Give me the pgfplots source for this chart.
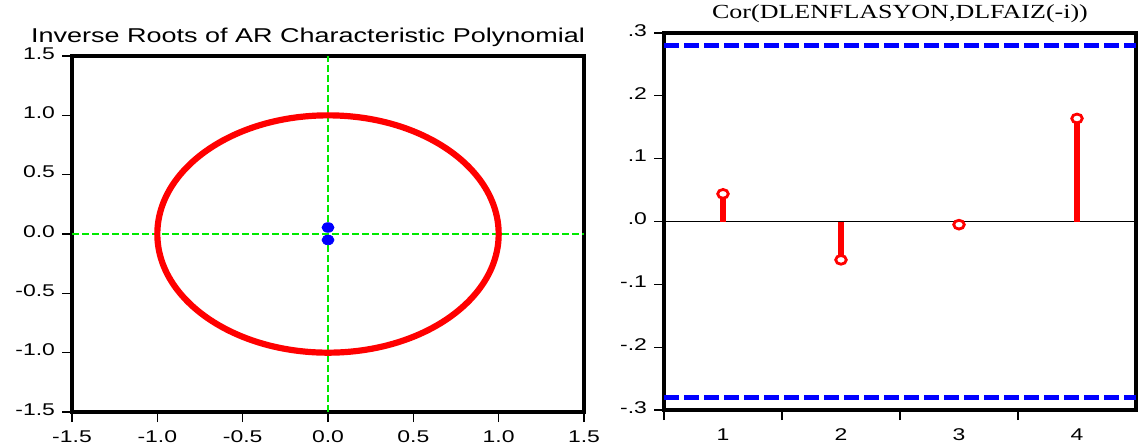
\documentclass[border=0pt]{standalone}
\usepackage{fontspec}
\setmainfont[FakeStretch=1.35]{Liberation Sans}
\newfontfamily\timesfont[FakeStretch=1.3]{Liberation Serif}
\usepackage{pgfplots}
\pgfplotsset{compat=1.18}
\definecolor{evgreen}{RGB}{0,235,0}

\pgfplotsset{
  evframe/.style={
    scale only axis, anchor=south west,
    axis line style={line width=2.4pt, line join=miter},
    tick align=outside, tick pos=left,
    major tick length=5pt,
    tick style={black, line width=0.6pt},
    ticklabel style={font=\fontsize{8.5}{10}\selectfont},
    yticklabel style={yshift=1.3pt},
    /pgf/number format/assume math mode=true,
  }
}

\begin{document}
\begin{tikzpicture}
% left panel: inverse roots
\begin{axis}[evframe, at={(36pt,17.5pt)}, width=256pt, height=178pt,
  xmin=-1.5, xmax=1.5, ymin=-1.5, ymax=1.5,
  xtick={-1.5,-1,-0.5,0,0.5,1,1.5},
  ytick={-1.5,-1,-0.5,0,0.5,1,1.5},
  xticklabel style={yshift=-1pt},
  /pgf/number format/.cd, fixed, fixed zerofill, precision=1]
\addplot[evgreen, line width=1pt, dash pattern=on 3.5pt off 1.5pt] coordinates {(-1.5,0) (1.5,0)};
\addplot[evgreen, line width=1pt, dash pattern=on 3.5pt off 1.5pt] coordinates {(0,-1.5) (0,1.5)};
\draw[red, line width=3.1pt] (axis cs:0,0) ellipse [x radius=1, y radius=1];
\addplot[only marks, mark=*, blue, mark size=2.4pt, mark options={xscale=1.25}] coordinates {(0,0.055) (0,-0.05)};
\end{axis}

% right panel: cross correlogram
\begin{axis}[evframe, at={(332pt,18.5pt)}, width=236pt, height=188.5pt,
  xmin=0.5, xmax=4.5, ymin=-0.3, ymax=0.3,
  xtick={0.5,1.5,2.5,3.5}, xticklabels={},
  extra x ticks={1,2,3,4}, extra x tick labels={1,2,3,4},
  extra x tick style={major tick length=0pt, xticklabel style={yshift=-6pt}},
  ytick={-0.3,-0.2,-0.1,0,0.1,0.2,0.3},
  yticklabels={-.3,-.2,-.1,.0,.1,.2,.3}]
\addplot[black, line width=0.5pt] coordinates {(0.5,0) (4.5,0)};
\addplot[blue, line width=2.3pt, dash pattern=on 7.5pt off 2.5pt] coordinates {(0.5,0.28) (4.5,0.28)};
\addplot[blue, line width=2.3pt, dash pattern=on 7.5pt off 2.5pt] coordinates {(0.5,-0.28) (4.5,-0.28)};
\addplot[red, line width=3pt, ycomb] coordinates {(1,0.044) (2,-0.061) (3,-0.005) (4,0.164)};
\addplot[only marks, mark=*, red, mark size=2.2pt, mark options={fill=white, line width=1.4pt, xscale=1.2}]
  coordinates {(1,0.044) (2,-0.061) (3,-0.005) (4,0.164)};
\end{axis}

\node[font=\fontsize{10}{12}\selectfont] at (154pt,205pt) {Inverse Roots of AR Characteristic Polynomial};
\node[font=\timesfont\fontsize{10}{12}\selectfont] at (450pt,216.5pt) {Cor(DLENFLASYON,DLFAIZ(-i))};

\pgfresetboundingbox
\path[use as bounding box] (0,0) rectangle (569pt,223.5pt);
\end{tikzpicture}
\end{document}
